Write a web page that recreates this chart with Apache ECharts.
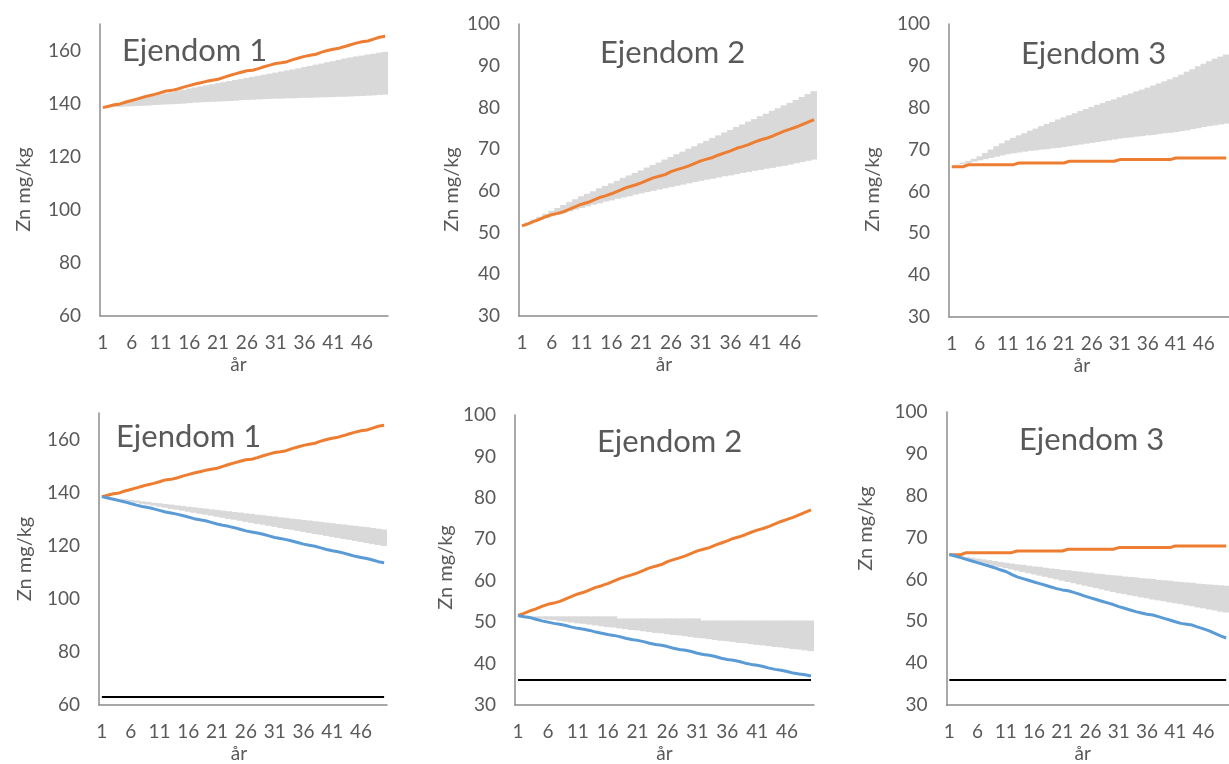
<!DOCTYPE html>
<html><head><meta charset="utf-8">
<script src="https://cdn.jsdelivr.net/npm/echarts@6/dist/echarts.min.js"></script>
<style>html,body{margin:0;padding:0;background:#fff}#c{width:1229px;height:764px}</style>
</head><body><div id="c"></div>
<script>
// ---------- data ----------
const years = [1,2,3,4,5,6,7,8,9,10,11,12,13,14,15,16,17,18,19,20,21,22,23,24,25,26,27,28,29,30,31,32,33,34,35,36,37,38,39,40,41,42,43,44,45,46,47,48,49,50];
const titles = ['Ejendom 1','Ejendom 2','Ejendom 3','Ejendom 1','Ejendom 2','Ejendom 3'];
const yMin = [60,30,30,60,30,30];
const yMax = [170,100,100,170,100,100];
const yStep = [20,10,10,20,10,10];
const xName = 'år';
const yName = 'Zn mg/kg';

// orange (increase scenario)
const orange1 = [138.5,139.0,139.6,139.9,140.6,141.2,141.8,142.4,143.0,143.5,144.1,144.8,145.0,145.5,146.2,146.8,147.4,147.9,148.4,148.8,149.2,149.9,150.6,151.2,151.8,152.4,152.6,153.2,153.9,154.5,155.1,155.4,155.8,156.6,157.2,157.8,158.2,158.6,159.4,160.0,160.5,160.9,161.5,162.2,162.8,163.3,163.6,164.3,165.0,165.4];
const orange2 = [51.6,52.1,52.7,53.2,53.8,54.3,54.6,55.0,55.6,56.2,56.8,57.2,57.8,58.4,58.8,59.3,59.9,60.5,61.0,61.4,61.9,62.5,63.1,63.5,63.9,64.6,65.1,65.5,66.0,66.6,67.2,67.6,68.0,68.6,69.1,69.6,70.2,70.6,71.1,71.7,72.2,72.6,73.1,73.7,74.3,74.8,75.3,75.9,76.5,77.1];
const orange3 = [65.9,65.9,65.9,66.4,66.4,66.4,66.4,66.4,66.4,66.4,66.4,66.4,66.8,66.8,66.8,66.8,66.8,66.8,66.8,66.8,66.8,67.2,67.2,67.2,67.2,67.2,67.2,67.2,67.2,67.2,67.6,67.6,67.6,67.6,67.6,67.6,67.6,67.6,67.6,67.6,68.0,68.0,68.0,68.0,68.0,68.0,68.0,68.0,68.0,68.0];

// blue (decrease scenario)
const blue1 = [138.5,138.0,137.5,137.0,136.5,135.9,135.3,134.8,134.4,133.9,133.3,132.7,132.3,131.9,131.4,130.8,130.2,129.8,129.4,128.8,128.2,127.7,127.3,126.8,126.2,125.6,125.2,124.8,124.3,123.7,123.1,122.7,122.3,121.8,121.2,120.6,120.2,119.8,119.2,118.6,118.1,117.7,117.2,116.6,116.0,115.6,115.2,114.6,114.0,113.6];
const blue2 = [51.6,51.3,51.1,50.7,50.3,50.0,49.7,49.5,49.2,48.8,48.5,48.3,48.0,47.6,47.3,47.0,46.8,46.5,46.1,45.8,45.6,45.3,44.9,44.6,44.4,44.1,43.7,43.4,43.2,42.9,42.5,42.2,42.0,41.7,41.3,41.0,40.8,40.5,40.1,39.8,39.6,39.3,38.9,38.6,38.4,38.1,37.7,37.5,37.3,37.0];
const blue3 = [66.0,65.6,65.2,64.8,64.4,64.0,63.6,63.2,62.8,62.3,61.9,61.2,60.6,60.2,59.8,59.4,59.0,58.6,58.2,57.8,57.5,57.3,56.9,56.5,56.0,55.6,55.2,54.8,54.4,54.0,53.5,53.1,52.7,52.3,52.0,51.7,51.5,51.1,50.7,50.3,49.9,49.5,49.3,49.1,48.6,48.2,47.7,47.1,46.5,46.0];

// grey bands, top row
const bandLowTop1 = [138.5,138.6,138.7,138.8,138.9,139.0,139.1,139.2,139.3,139.5,139.6,139.7,139.8,139.9,140.0,140.2,140.4,140.5,140.6,140.7,140.8,140.9,141.0,141.1,141.3,141.4,141.5,141.6,141.7,141.8,141.9,141.9,142.0,142.0,142.1,142.2,142.2,142.3,142.4,142.4,142.5,142.6,142.6,142.7,142.8,142.9,143.0,143.1,143.3,143.4];
const bandHighTop1 = [138.5,139.0,139.5,140.0,140.5,141.0,141.5,142.0,142.5,143.0,143.4,143.9,144.3,144.8,145.2,145.7,146.1,146.5,146.9,147.3,147.7,148.1,148.5,148.9,149.3,149.7,150.1,150.5,150.9,151.3,151.7,152.1,152.5,152.9,153.3,153.8,154.2,154.7,155.1,155.6,156.0,156.5,157.0,157.4,157.8,158.1,158.5,158.8,159.2,159.5];
const bandLowTop2 = [51.6,52.1,52.6,53.0,53.5,53.9,54.3,54.7,55.1,55.5,55.9,56.3,56.7,57.0,57.4,57.7,58.1,58.4,58.7,59.1,59.4,59.7,60.0,60.3,60.6,60.9,61.2,61.5,61.8,62.1,62.4,62.7,62.9,63.2,63.5,63.7,64.0,64.3,64.5,64.8,65.0,65.3,65.5,65.8,66.0,66.3,66.6,66.9,67.2,67.5];
const bandHighTop2 = [51.6,52.4,53.1,53.8,54.5,55.2,55.9,56.6,57.3,58.0,58.7,59.3,59.9,60.6,61.2,61.8,62.4,63.1,63.7,64.3,64.9,65.6,66.2,66.8,67.5,68.1,68.8,69.4,70.1,70.7,71.4,72.0,72.7,73.3,74.0,74.6,75.3,75.9,76.6,77.2,77.9,78.5,79.2,79.8,80.5,81.1,81.8,82.5,83.2,83.9];
const bandLowTop3 = [66.0,66.2,66.5,66.8,67.1,67.4,67.7,68.0,68.3,68.6,68.9,69.1,69.3,69.5,69.7,69.8,70.0,70.1,70.3,70.4,70.6,70.8,71.0,71.2,71.4,71.6,71.8,72.0,72.2,72.4,72.6,72.8,72.9,73.1,73.2,73.4,73.5,73.7,73.9,74.0,74.2,74.4,74.6,74.9,75.1,75.4,75.6,75.8,76.0,76.2];
const bandHighTop3 = [66.0,66.4,66.9,67.3,67.8,68.4,69.2,70.0,70.8,71.5,72.2,72.8,73.4,73.9,74.5,75.0,75.6,76.1,76.6,77.2,77.7,78.2,78.7,79.2,79.7,80.2,80.7,81.1,81.6,82.0,82.5,83.0,83.4,83.9,84.3,84.8,85.3,85.8,86.3,86.8,87.3,87.9,88.6,89.2,89.9,90.5,91.1,91.7,92.2,92.7];

// grey bands, bottom row
const bandLowBot1 = [138.5,138.1,137.7,137.4,137.0,136.6,136.2,135.8,135.5,135.1,134.7,134.3,133.9,133.6,133.2,132.8,132.4,132.0,131.7,131.3,130.9,130.5,130.1,129.8,129.4,129.0,128.6,128.2,127.9,127.5,127.1,126.7,126.3,126.0,125.6,125.2,124.8,124.4,124.1,123.7,123.3,122.9,122.5,122.2,121.8,121.4,121.0,120.6,120.3,119.9];
const bandHighBot1 = [138.5,138.3,138.0,137.7,137.5,137.2,137.0,136.7,136.5,136.2,136.0,135.7,135.5,135.2,135.0,134.7,134.5,134.2,134.0,133.7,133.5,133.2,133.0,132.7,132.5,132.2,132.0,131.7,131.5,131.2,131.0,130.7,130.5,130.2,130.0,129.7,129.5,129.2,129.0,128.7,128.5,128.2,128.0,127.7,127.5,127.2,127.0,126.7,126.4,126.1];
const bandLowBot2 = [51.6,51.4,51.2,51.0,50.8,50.6,50.5,50.3,50.1,49.9,49.7,49.6,49.4,49.2,49.0,48.8,48.7,48.5,48.3,48.1,48.0,47.8,47.6,47.4,47.3,47.1,46.9,46.8,46.6,46.4,46.2,46.1,45.9,45.7,45.5,45.4,45.2,45.0,44.9,44.7,44.5,44.4,44.2,44.0,43.9,43.7,43.5,43.4,43.2,43.0];
const bandHighBot2 = [51.6,51.6,51.4,51.4,51.4,51.4,51.4,51.4,51.4,51.4,51.4,51.4,51.4,51.4,51.4,51.4,51.4,50.9,50.9,50.9,50.9,50.9,50.9,50.9,50.9,50.9,50.9,50.9,50.9,50.9,50.9,50.4,50.4,50.4,50.4,50.4,50.4,50.4,50.4,50.4,50.4,50.4,50.4,50.4,50.4,50.4,50.4,50.4,50.4,50.4];
const bandLowBot3 = [66.0,65.6,65.3,64.9,64.6,64.2,63.9,63.6,63.3,63.0,62.7,62.4,62.1,61.8,61.5,61.2,60.9,60.6,60.3,60.0,59.7,59.4,59.1,58.8,58.5,58.2,57.9,57.6,57.3,57.0,56.7,56.5,56.2,56.0,55.7,55.5,55.2,55.0,54.8,54.5,54.3,54.1,53.8,53.6,53.3,53.1,52.8,52.6,52.3,52.1];
const bandHighBot3 = [66.0,65.8,65.6,65.4,65.2,65.0,64.8,64.6,64.4,64.2,64.0,63.8,63.6,63.5,63.3,63.1,63.0,62.8,62.6,62.5,62.3,62.2,62.0,61.9,61.7,61.6,61.4,61.3,61.1,61.0,60.9,60.7,60.6,60.5,60.3,60.2,60.1,59.9,59.8,59.7,59.5,59.4,59.3,59.2,59.0,58.9,58.8,58.7,58.6,58.5];

// thresholds (black lines), bottom row
const threshold1 = 63;
const threshold2 = 36;
const threshold3 = 36;

// ---------- panels ----------
const panels = [
  {orange: orange1, blue: null,  low: bandLowTop1, high: bandHighTop1, thr: null},
  {orange: orange2, blue: null,  low: bandLowTop2, high: bandHighTop2, thr: null},
  {orange: orange3, blue: null,  low: bandLowTop3, high: bandHighTop3, thr: null},
  {orange: orange1, blue: blue1, low: bandLowBot1, high: bandHighBot1, thr: threshold1},
  {orange: orange2, blue: blue2, low: bandLowBot2, high: bandHighBot2, thr: threshold2},
  {orange: orange3, blue: blue3, low: bandLowBot3, high: bandHighBot3, thr: threshold3}
];

// layout (positions only)
const grids = [
  {left: 100, top: 24, width: 288, height: 292},
  {left: 519, top: 24, width: 298, height: 292},
  {left: 949, top: 24, width: 293, height: 293},
  {left: 99, top: 413, width: 288, height: 293},
  {left: 515, top: 415, width: 299, height: 292},
  {left: 946.5, top: 412, width: 290, height: 293}
];
const yNameGap = [66, 57, 66, 64, 59, 71];
const yNamePad = [[0,39,0,0],[0,39,0,0],[0,38,0,0],[0,0,0,0],[0,15,0,0],[0,0,0,60]];
const xNamePad = [[0,11,0,0],[0,8,0,0],[0,14,0,0],[0,8,0,0],[0,0,0,0],[0,10,0,0]];
const titlePos = [[122,35.5],[600,37.5],[1021,38],[116,421],[597,426.5],[1019,424]];

const FONT = 'Lato, "Open Sans", sans-serif';
const TXT = '#595959';
const AXIS = '#8c8c8c';
const ORANGE = '#ED7D31';
const BLUE = '#5B9BD5';
const GREY = '#D9D9D9';

const option = {
  animation: false,
  backgroundColor: '#ffffff',
  title: titles.map((t, i) => ({
    text: t, left: titlePos[i][0], top: titlePos[i][1], padding: 0,
    textStyle: {fontFamily: FONT, fontSize: 31, fontWeight: 'normal', color: TXT}
  })),
  grid: grids.map(g => Object.assign({containLabel: false}, g)),
  xAxis: grids.map((g, i) => ({
    type: 'category', gridIndex: i, data: years, boundaryGap: true,
    axisLine: {show: true, lineStyle: {color: AXIS, width: 1.5}},
    axisTick: {show: false},
    splitLine: {show: false},
    axisLabel: {interval: 4, margin: 17, fontSize: 19, color: TXT, fontFamily: FONT},
    name: xName, nameLocation: 'middle', nameGap: 39,
    nameTextStyle: {fontSize: 19, color: TXT, fontFamily: FONT, padding: xNamePad[i]}
  })),
  yAxis: grids.map((g, i) => ({
    type: 'value', gridIndex: i, min: yMin[i], max: yMax[i], interval: yStep[i],
    axisLine: {show: true, lineStyle: {color: AXIS, width: 1.5}},
    axisTick: {show: false},
    splitLine: {show: false},
    axisLabel: {margin: 19, fontSize: 19, color: TXT, fontFamily: FONT,
      showMaxLabel: (yMax[i] - yMin[i]) % yStep[i] === 0},
    name: yName, nameLocation: 'middle', nameGap: yNameGap[i], nameRotate: 90,
    nameTextStyle: {fontSize: 20, color: TXT, fontFamily: FONT, padding: yNamePad[i]}
  })),
  series: []
};

panels.forEach((p, i) => {
  option.series.push({
    type: 'bar', xAxisIndex: i, yAxisIndex: i, stack: 'band' + i, silent: true,
    barWidth: '118%', barGap: '0%',
    itemStyle: {color: 'rgba(0,0,0,0)'},
    data: p.low
  });
  option.series.push({
    type: 'bar', xAxisIndex: i, yAxisIndex: i, stack: 'band' + i, silent: true,
    barWidth: '118%', barGap: '0%',
    itemStyle: {color: GREY},
    data: p.high.map((h, k) => +(h - p.low[k]).toFixed(2))
  });
  option.series.push({
    type: 'line', xAxisIndex: i, yAxisIndex: i, silent: true,
    data: p.orange, symbol: 'none', z: 4,
    lineStyle: {color: ORANGE, width: 3}
  });
  if (p.blue) {
    option.series.push({
      type: 'line', xAxisIndex: i, yAxisIndex: i, silent: true,
      data: p.blue, symbol: 'none', z: 4,
      lineStyle: {color: BLUE, width: 3},
      markLine: {
        silent: true, symbol: ['none', 'none'], label: {show: false},
        lineStyle: {color: '#000000', width: 2, type: 'solid'},
        data: [[{coord: [0, p.thr]}, {coord: [years.length - 1, p.thr]}]]
      }
    });
  }
});

const chart = echarts.init(document.getElementById('c'), null, {renderer: 'canvas'});
chart.setOption(option);
</script>
</body></html>
